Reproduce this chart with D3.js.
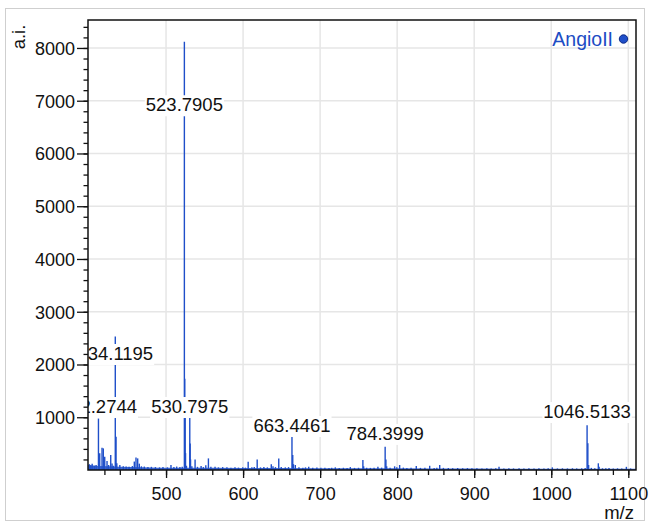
<!DOCTYPE html>
<html>
<head>
<meta charset="utf-8">
<script src="https://cdn.jsdelivr.net/npm/d3@7/dist/d3.min.js"></script>
<style>
  body { margin: 0; background: #fff; }
  text { font-family: "Liberation Sans", Arial, Helvetica, sans-serif; }
</style>
</head>
<body>
<div id="main"></div>
<script>
"use strict";

// m/z range and intensity range of the plot
var mzDomain = [398.7, 1110];
var aiDomain = [0, 8530];

var xTicks = [500, 600, 700, 800, 900, 1000, 1100];
var yTicks = [1000, 2000, 3000, 4000, 5000, 6000, 7000, 8000];

// noise floor [m/z, intensity]
var floorPts = [
  [398.7, 95], [405, 85], [412, 75], [425, 70], [440, 60], [455, 55], [470, 50],
  [490, 45], [520, 45], [560, 42], [600, 38], [650, 38], [700, 35], [750, 33],
  [800, 32], [850, 30], [900, 27], [950, 25], [1000, 25], [1050, 24], [1110, 22]
];

// peaks [m/z, intensity]
var peaks = [
  [400.5, 110], [402.3, 90], [404.1, 120], [406.8, 80], [409.2, 95],
  [412.27, 975], [413.9, 316], [416.9, 423], [418.6, 410], [420.4, 250],
  [423.4, 170], [425.5, 95], [428.2, 285], [429.9, 125], [431.5, 80],
  [434.12, 2530], [435.12, 630], [436.1, 130], [440.0, 95], [444.5, 70],
  [448.2, 65], [452.0, 60], [456.3, 75], [458.8, 160], [461.0, 235],
  [463.2, 220], [465.3, 120], [468.0, 70], [471.8, 65], [476.5, 55],
  [481.0, 60], [486.2, 55], [491.5, 50], [496.0, 55], [501.8, 50],
  [506.4, 95], [510.2, 55], [513.8, 65], [518.0, 55], [521.0, 60],
  [523.79, 8120], [524.29, 1730], [524.79, 1100], [525.3, 320], [526.5, 80],
  [530.80, 1150], [531.30, 500], [531.8, 200], [533.5, 70], [537.7, 200],
  [540.8, 60], [545.5, 75], [548.4, 55], [551.6, 90], [555.0, 220],
  [558.2, 60], [563.6, 60], [568.0, 50], [573.5, 55], [579.0, 50],
  [584.2, 45], [589.5, 50], [594.0, 45], [599.6, 50], [603.0, 45],
  [606.6, 157], [611.4, 50], [614.5, 55], [618.3, 200], [622.6, 50],
  [627.0, 55], [631.5, 50], [636.6, 108], [638.8, 70], [642.0, 55],
  [646.3, 220], [649.5, 55], [654.8, 50], [659.0, 55], [663.45, 650],
  [664.45, 285], [665.4, 110], [667.8, 95], [672.5, 50], [677.6, 45],
  [681.0, 50], [685.2, 60], [690.4, 45], [695.8, 48], [701.0, 42],
  [706.2, 45], [711.5, 40], [715.0, 42], [719.7, 50], [724.8, 40],
  [730.2, 42], [735.0, 40], [739.2, 55], [744.6, 40], [749.8, 42],
  [755.5, 190], [756.5, 70], [760.4, 42], [765.2, 40], [770.0, 45],
  [775.0, 60], [779.8, 45], [784.40, 442], [785.40, 200], [786.4, 70],
  [790.8, 45], [796.7, 70], [799.5, 50], [803.2, 95], [808.0, 45],
  [812.6, 40], [818.0, 45], [824.8, 75], [830.2, 40], [836.0, 42],
  [842.2, 80], [848.0, 40], [851.5, 45], [855.2, 95], [860.0, 40],
  [866.4, 38], [872.0, 35], [878.5, 38], [885.0, 34], [891.2, 36],
  [897.0, 32], [903.5, 34], [910.0, 30], [916.4, 32], [922.0, 30],
  [928.0, 33], [932.2, 60], [938.5, 30], [945.0, 32], [951.0, 30],
  [958.2, 32], [964.5, 30], [971.0, 33], [977.6, 30], [984.0, 32],
  [990.5, 30], [996.0, 32], [1001.4, 50], [1008.0, 30], [1014.5, 32],
  [1021.0, 30], [1027.5, 33], [1033.0, 30], [1039.5, 32], [1044.0, 40],
  [1046.51, 850], [1047.5, 505], [1048.5, 95], [1052.0, 40], [1056.5, 35],
  [1061.1, 127], [1062.1, 60], [1066.5, 32], [1070.8, 35], [1075.0, 40],
  [1080.5, 30], [1086.0, 32], [1091.5, 30], [1097.5, 60], [1103.0, 30]
];

// labelled peaks: m/z, text, intensity at the label baseline
var labelMz = [412.27, 434.12, 523.79, 530.80, 663.45, 784.40, 1046.51];
var labelText = ["412.2744", "434.1195", "523.7905", "530.7975", "663.4461", "784.3999", "1046.5133"];
var labelAt = [1080, 2085, 6800, 1080, 720, 570, 985];

var legendName = "AngioII";

var CH = {
  w: 650,
  h: 525,
  left: 88,
  right: 636,
  top: 20,
  bottom: 470,
  blue: "#1f4fc9",
  svg: null,
  x: null,
  y: null,
  init: function() {
    this.svg = d3.select("#main").append("svg")
      .attr("width", CH.w)
      .attr("height", CH.h);
    this.x = d3.scaleLinear().domain(mzDomain).range([CH.left, CH.right]);
    this.y = d3.scaleLinear().domain(aiDomain).range([CH.bottom, CH.top]);
    this.drawFrame();
    this.drawGrid();
    this.drawSpectrum();
    this.drawLabels();
    this.drawAxes();
    this.drawLegend();
  },
  drawFrame: function() {
    CH.svg.append("rect")
      .attr("x", 5.5).attr("y", 8.5)
      .attr("width", 639).attr("height", 512)
      .attr("fill", "none")
      .attr("stroke", "#cfcfcf");
    CH.svg.append("clipPath").attr("id", "plotClip")
      .append("rect")
      .attr("x", CH.left).attr("y", CH.top)
      .attr("width", CH.right - CH.left)
      .attr("height", CH.bottom - CH.top);
  },
  drawGrid: function() {
    var g = CH.svg.append("g");
    xTicks.forEach(function(t) {
      g.append("line")
        .attr("x1", CH.x(t)).attr("x2", CH.x(t))
        .attr("y1", CH.top).attr("y2", CH.bottom)
        .attr("stroke", "#e6e6e6").attr("stroke-width", 1.5);
    });
    yTicks.forEach(function(t) {
      g.append("line")
        .attr("x1", CH.left).attr("x2", CH.right)
        .attr("y1", CH.y(t)).attr("y2", CH.y(t))
        .attr("stroke", "#e6e6e6").attr("stroke-width", 1.5);
    });
  },
  drawSpectrum: function() {
    var g = CH.svg.append("g").attr("clip-path", "url(#plotClip)");
    var area = d3.area()
      .x(function(d) { return CH.x(d[0]); })
      .y0(CH.y(0))
      .y1(function(d) { return CH.y(d[1]); });
    g.append("path")
      .datum(floorPts)
      .attr("d", area)
      .attr("fill", CH.blue)
      .attr("opacity", 0.85);
    g.selectAll("line.peak")
      .data(peaks)
      .enter().append("line")
      .attr("class", "peak")
      .attr("x1", function(d) { return CH.x(d[0]); })
      .attr("x2", function(d) { return CH.x(d[0]); })
      .attr("y1", CH.y(0))
      .attr("y2", function(d) { return CH.y(d[1]); })
      .attr("stroke", CH.blue)
      .attr("stroke-width", 1.4);
  },
  drawLabels: function() {
    var g = CH.svg.append("g").attr("clip-path", "url(#plotClip)");
    labelMz.forEach(function(mz, i) {
      var lg = g.append("g");
      var bg = lg.append("rect").attr("fill", "#fff");
      var t = lg.append("text")
        .attr("x", CH.x(mz))
        .attr("y", CH.y(labelAt[i]))
        .attr("text-anchor", "middle")
        .attr("font-size", "18.5px")
        .attr("fill", "#111")
        .text(labelText[i]);
      var b = t.node().getBBox();
      bg.attr("x", b.x - 1).attr("y", b.y + 1)
        .attr("width", b.width + 2).attr("height", b.height);
    });
  },
  drawAxes: function() {
    var minorX = d3.range(420, 1110, 20);
    var minorY = d3.range(200, 8530, 200);

    CH.svg.append("rect")
      .attr("x", CH.left).attr("y", CH.top)
      .attr("width", CH.right - CH.left)
      .attr("height", CH.bottom - CH.top)
      .attr("fill", "none")
      .attr("stroke", "#111")
      .attr("stroke-width", 1.5);

    var xMinor = CH.svg.append("g")
      .attr("transform", "translate(0," + CH.bottom + ")")
      .call(d3.axisBottom(CH.x).tickValues(minorX).tickSize(5).tickFormat(""));
    var xMajor = CH.svg.append("g")
      .attr("transform", "translate(0," + CH.bottom + ")")
      .call(d3.axisBottom(CH.x).tickValues(xTicks).tickSize(8).tickPadding(9).tickFormat(d3.format("d")));
    var yMinor = CH.svg.append("g")
      .attr("transform", "translate(" + CH.left + ",0)")
      .call(d3.axisLeft(CH.y).tickValues(minorY).tickSize(4.5).tickFormat(""));
    var yMajor = CH.svg.append("g")
      .attr("transform", "translate(" + CH.left + ",0)")
      .call(d3.axisLeft(CH.y).tickValues(yTicks).tickSize(11).tickPadding(2).tickFormat(d3.format("d")));

    [xMinor, xMajor, yMinor, yMajor].forEach(function(a) {
      a.select(".domain").remove();
      a.selectAll("line").attr("stroke", "#111").attr("stroke-width", 1.3);
      a.selectAll("text")
        .attr("font-family", "'Liberation Sans', Arial, sans-serif")
        .attr("font-size", "18px")
        .attr("fill", "#111");
    });
    yMajor.selectAll("text").attr("dy", "0.35em");

    CH.svg.append("text")
      .attr("x", 634).attr("y", 519)
      .attr("text-anchor", "end")
      .attr("font-size", "18.5px")
      .attr("fill", "#111")
      .text("m/z");
    CH.svg.append("text")
      .attr("transform", "translate(24.5,37) rotate(-90)")
      .attr("text-anchor", "middle")
      .attr("font-size", "18.5px")
      .attr("fill", "#111")
      .text("a.i.");
  },
  drawLegend: function() {
    CH.svg.append("text")
      .attr("x", 613).attr("y", 45.5)
      .attr("text-anchor", "end")
      .attr("font-size", "19.5px")
      .attr("fill", "#1c4cc4")
      .text(legendName);
    CH.svg.append("circle")
      .attr("cx", 623.5).attr("cy", 39)
      .attr("r", 4.2)
      .attr("fill", "#1f4fc9")
      .attr("stroke", "#0d2a85")
      .attr("stroke-width", 1);
  }
};

CH.init();
</script>
</body>
</html>
